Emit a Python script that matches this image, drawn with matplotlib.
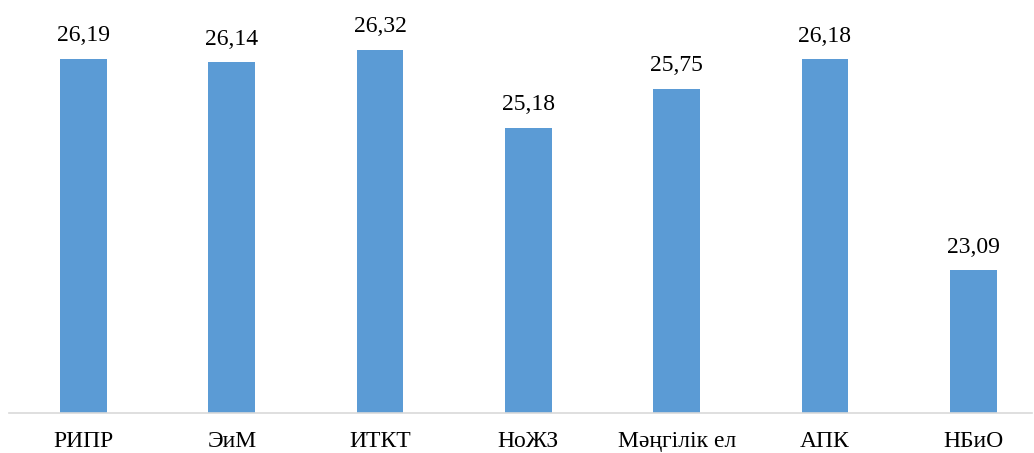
import matplotlib
matplotlib.use('Agg')
import matplotlib.pyplot as plt

categories = ['РИПР', 'ЭиМ', 'ИТКТ', 'НоЖЗ', 'Мәңгілік ел', 'АПК', 'НБиО']
values = [26.19, 26.14, 26.32, 25.18, 25.75, 26.18, 23.09]
value_labels = ['26,19', '26,14', '26,32', '25,18', '25,75', '26,18', '23,09']

plt.rcParams['font.family'] = ['Liberation Serif', 'DejaVu Serif']

W, H = 1034, 453
fig = plt.figure(figsize=(W / 100, H / 100), dpi=100)
ax = fig.add_axes([9.3 / W, (H - 413) / H, (1032 - 9.3) / W, 413 / H])

x = list(range(len(categories)))
ax.bar(x, values, width=0.315, color='#5B9BD5', zorder=2)

for xi, v, lab in zip(x, values, value_labels):
    ax.annotate(lab, (xi, v), xytext=(0, 9), textcoords='offset points',
                ha='center', va='bottom', fontsize=17, color='black')

ax.set_xlim(-0.5, (1032 - 83.5) / 148.3)
ax.set_ylim(21, 27.05)
ax.set_xticks(x)
ax.set_xticklabels(categories, fontsize=17)
ax.tick_params(axis='x', length=0, pad=13)
ax.set_yticks([])
for side in ['top', 'left', 'right']:
    ax.spines[side].set_visible(False)
ax.spines['bottom'].set_color('#D9D9D9')
ax.spines['bottom'].set_linewidth(1.2)

fig.savefig('out.png', dpi=100)
